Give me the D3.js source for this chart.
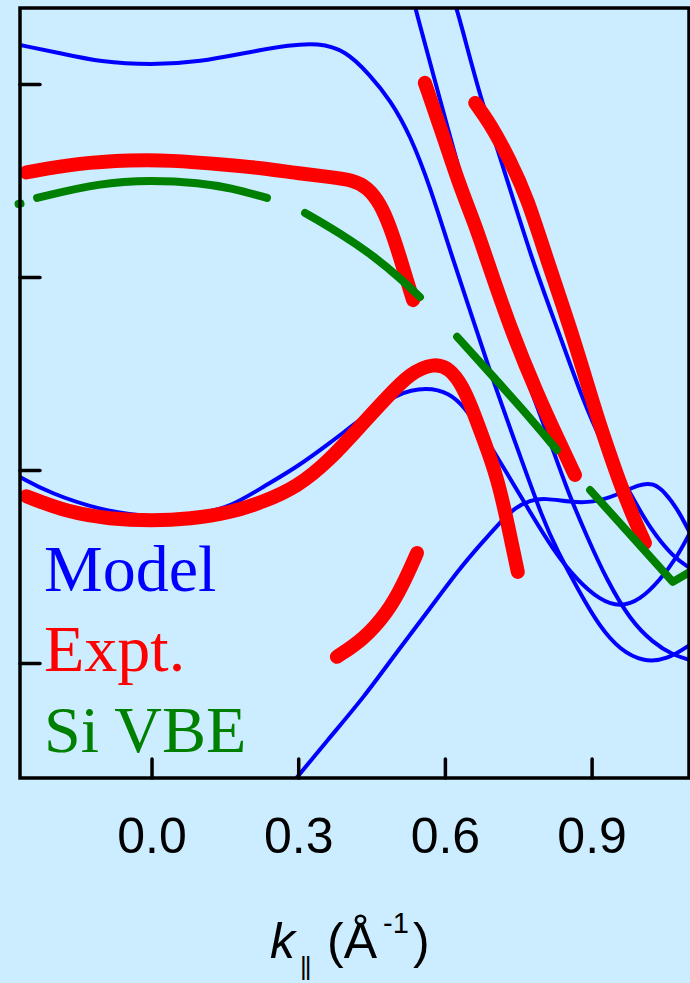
<!DOCTYPE html>
<html><head><meta charset="utf-8">
<script src="https://cdn.jsdelivr.net/npm/d3@7"></script>
<style>html,body{margin:0;padding:0;background:#ccecff;} svg{display:block;}</style>
</head><body><svg id="chart" width="690" height="983"></svg>
<script>
// ---- tick labels ----
const kTicks = [0.0, 0.3, 0.6, 0.9];
const eTicks = [0.5, 1.0, 1.5, 2.0];
const legendLabels = ["Model", "Expt.", "Si VBE"];

// ---- Model (blue) bands: k (1/Å), E (eV, binding, downward) ----
const model1K = [-0.269,-0.187,-0.105,0,0.099,0.201,0.283,0.340,0.396,0.447,0.488,0.529,0.570,0.610,0.651,0.698,0.747,0.801,0.829,0.876,0.917,0.958,1.005,1.054,1.101];
const model1E = [0.399,0.420,0.443,0.451,0.443,0.417,0.399,0.394,0.412,0.477,0.541,0.632,0.767,0.930,1.085,1.267,1.440,1.630,1.707,1.819,1.907,1.966,1.997,1.992,1.953];
const model2K = [0.529,0.539,0.590,0.635,0.692,0.733,0.774,0.819,0.850,0.891,0.931,0.979,1.026,1.066,1.101];
const model2E = [0.251,0.301,0.541,0.749,1.008,1.150,1.285,1.440,1.552,1.674,1.785,1.889,1.948,1.979,1.992];
const model3K = [0.615,0.631,0.672,0.713,0.778,0.829,0.882,0.923,0.958,0.989,1.019,1.066,1.101];
const model3E = [0.269,0.334,0.534,0.689,0.956,1.130,1.319,1.435,1.513,1.583,1.650,1.725,1.754];
const model4K = [-0.269,-0.208,-0.105,0,0.099,0.161,0.228,0.298,0.365,0.433,0.502,0.563,0.610,0.641,0.672,0.707,0.768,0.821,0.870,0.917,0.958,0.999,1.040,1.075,1.101];
const model4E = [1.518,1.560,1.604,1.624,1.614,1.596,1.544,1.492,1.430,1.363,1.301,1.285,1.301,1.339,1.396,1.466,1.596,1.707,1.785,1.837,1.855,1.837,1.785,1.725,1.663];
const model5K = [0.273,0.365,0.433,0.502,0.570,0.631,0.672,0.713,0.743,0.774,0.805,0.856,0.903,0.952,0.999,1.026,1.050,1.077,1.101];
const model5E = [2.334,2.192,2.091,1.971,1.858,1.754,1.694,1.635,1.598,1.578,1.573,1.583,1.585,1.565,1.536,1.534,1.557,1.604,1.663];

// ---- Experiment (red) ----
const expt1K = [-0.256,-0.152,-0.038,0.032,0.161,0.228,0.298,0.365,0.412,0.441,0.467,0.488,0.508,0.522,0.535];
const expt1E = [0.729,0.705,0.697,0.697,0.710,0.718,0.731,0.741,0.749,0.767,0.808,0.870,0.948,1.008,1.060];
const expt2K = [0.559,0.596,0.631,0.662,0.686,0.733,0.788,0.835,0.866];
const expt2E = [0.497,0.632,0.767,0.865,0.956,1.130,1.301,1.430,1.513];
const expt3K = [0.662,0.692,0.733,0.768,0.809,0.856,0.897,0.917,0.938,0.952,0.979,1.009];
const expt3E = [0.549,0.601,0.697,0.793,0.956,1.130,1.301,1.383,1.461,1.513,1.604,1.689];
const expt4K = [-0.256,-0.173,-0.085,0,0.079,0.161,0.228,0.298,0.365,0.433,0.482,0.529,0.576,0.610,0.637,0.655,0.678,0.707,0.729,0.749];
const expt4E = [1.568,1.609,1.627,1.632,1.627,1.611,1.583,1.544,1.474,1.378,1.311,1.249,1.223,1.236,1.285,1.339,1.417,1.518,1.642,1.764];
const expt5K = [0.379,0.433,0.482,0.514,0.543];
const expt5E = [1.984,1.940,1.870,1.798,1.715];

// ---- Si VBE (green) ----
const vbe0K = [-0.272,-0.268];
const vbe0E = [0.811,0.810];
const vbe1K = [-0.234,-0.105,0,0.099,0.161,0.236];
const vbe1E = [0.795,0.756,0.749,0.756,0.769,0.795];
const vbe2K = [0.314,0.385,0.457,0.508,0.549];
const vbe2E = [0.834,0.886,0.948,1.003,1.052];
const vbe3K = [0.625,0.692,0.764,0.829];
const vbe3E = [1.155,1.249,1.350,1.448];
const vbe4K = [0.897,1.066,1.101];
const vbe4E = [1.552,1.790,1.764];

const W = 690, H = 983;
const frame = {left: 20, right: 689, top: 8, bottom: 778};
const x = d3.scaleLinear().domain([-0.269, 1.0992]).range([frame.left, frame.right]);
const y = d3.scaleLinear().domain([0.3031, 2.298]).range([frame.top, frame.bottom]);

const svg = d3.select("#chart");
svg.append("rect").attr("width", W).attr("height", H).attr("fill", "#ccecff");
svg.append("defs").append("clipPath").attr("id", "plotclip").append("rect")
  .attr("x", frame.left).attr("y", frame.top)
  .attr("width", frame.right - frame.left).attr("height", frame.bottom - frame.top);

const pts = (K, E) => K.map((k, i) => [k, E[i]]);
const smooth = d3.line().x(d => x(d[0])).y(d => y(d[1])).curve(d3.curveBasis);
const straight = d3.line().x(d => x(d[0])).y(d => y(d[1]));

const modelSet = [[model1K, model1E], [model2K, model2E], [model3K, model3E], [model4K, model4E], [model5K, model5E]];
const exptSet = [[expt1K, expt1E], [expt2K, expt2E], [expt3K, expt3E], [expt4K, expt4E], [expt5K, expt5E]];
const vbeSet = [[vbe0K, vbe0E, smooth], [vbe1K, vbe1E, smooth], [vbe2K, vbe2E, smooth], [vbe3K, vbe3E, smooth], [vbe4K, vbe4E, straight]];

const gModel = svg.append("g").attr("clip-path", "url(#plotclip)");
modelSet.forEach(([K, E]) => {
  gModel.append("path").attr("d", smooth(pts(K, E))).attr("fill", "none")
    .attr("stroke", "#0000ff").attr("stroke-width", 4).attr("stroke-linejoin", "round");
});
const gExpt = svg.append("g");
exptSet.forEach(([K, E]) => {
  gExpt.append("path").attr("d", smooth(pts(K, E))).attr("fill", "none")
    .attr("stroke", "#ff0000").attr("stroke-width", 14).attr("stroke-linecap", "round").attr("stroke-linejoin", "round");
});
const gVbe = svg.append("g");
vbeSet.forEach(([K, E, gen]) => {
  gVbe.append("path").attr("d", gen(pts(K, E))).attr("fill", "none")
    .attr("stroke", "#008000").attr("stroke-width", 8).attr("stroke-linecap", "round").attr("stroke-linejoin", "round");
});

// axes
const gx = svg.append("g").attr("transform", `translate(0,${frame.bottom})`)
  .call(d3.axisBottom(x).tickValues(kTicks).tickSize(-19).tickFormat(d3.format(".1f")));
gx.select(".domain").remove();
gx.attr("font-size", 50).attr("font-family", "'Liberation Sans', Arial, Helvetica, sans-serif");
gx.selectAll(".tick line").attr("stroke", "#000").attr("stroke-width", 3.5).attr("stroke-linecap", "round");
gx.selectAll(".tick text").attr("y", 75).attr("dy", null).attr("fill", "#000");

const gy = svg.append("g").attr("transform", `translate(${frame.left},0)`)
  .call(d3.axisLeft(y).tickValues(eTicks).tickSize(-20).tickFormat(() => ""));
gy.select(".domain").remove();
gy.selectAll(".tick line").attr("stroke", "#000").attr("stroke-width", 3.5).attr("stroke-linecap", "round");

svg.append("rect").attr("x", frame.left).attr("y", frame.top)
  .attr("width", frame.right - frame.left).attr("height", frame.bottom - frame.top)
  .attr("fill", "none").attr("stroke", "#000").attr("stroke-width", 3.5);

// legend
const legendColors = ["#0000ff", "#ff0000", "#008000"];
const legendY = [591, 671, 752];
legendLabels.forEach((t, i) => {
  svg.append("text").attr("x", 44).attr("y", legendY[i]).text(t)
    .attr("fill", legendColors[i]).attr("font-size", 66)
    .attr("font-family", "'Liberation Serif', 'Times New Roman', serif");
});

// x-axis title: k|| (Å^-1)
const title = svg.append("text").attr("font-family", "'Liberation Sans', Arial, Helvetica, sans-serif")
  .attr("font-size", 50).attr("fill", "#000");
title.append("tspan").attr("x", 270).attr("y", 958).attr("font-style", "italic").text("k");
title.append("tspan").attr("x", 300).attr("y", 975).attr("font-size", 26).attr("letter-spacing", -2).text("||");
title.append("tspan").attr("x", 327).attr("y", 958).text("(Å");
title.append("tspan").attr("x", 383).attr("y", 933).attr("font-size", 29).text("-1");
title.append("tspan").attr("x", 413).attr("y", 958).text(")");
</script></body></html>
